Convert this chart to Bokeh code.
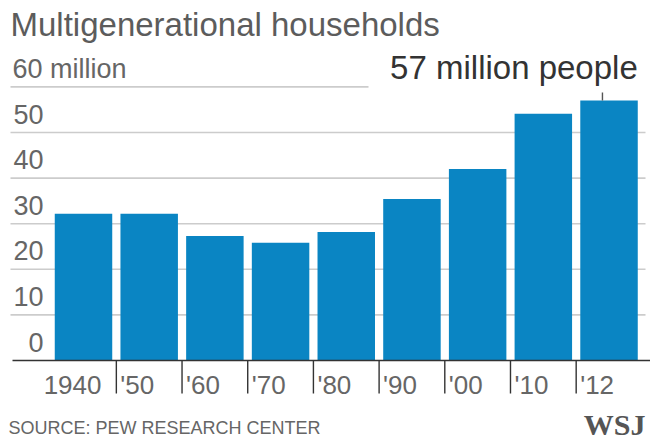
from bokeh.plotting import figure
from bokeh.models import Range1d, Label
from bokeh.core.properties import value
from bokeh.embed import file_html
from bokeh.resources import INLINE

# ---- data ----
years = ["1940", "'50", "'60", "'70", "'80", "'90", "'00", "'10", "'12"]
people = [32.2, 32.2, 27.3, 25.8, 28.2, 35.4, 42.0, 54.1, 57.0]
grid_values = [10, 20, 30, 40, 50]
y_label_values = [0, 10, 20, 30, 40, 50]
y_labels = ["0", "10", "20", "30", "40", "50"]
top_value = 60
top_label = "60 million"
title_text = "Multigenerational households"
callout_text = "57 million people"
source_text = "SOURCE: PEW RESEARCH CENTER"
brand_text = "WSJ"

# ---- layout ----
W, H = 650, 444
PX, PY = 65.69, 4.56          # pixels per category / per million
XS = -83 / PX
XE = XS + W / PX
YE = 360 / PY
YS = YE - H / PY

FONT = value("Liberation Sans")
GRAY = "#666666"
BLUE = "#0a85c3"

p = figure(width=W, height=H, x_range=Range1d(XS, XE), y_range=Range1d(YS, YE),
           output_backend="svg", toolbar_location=None, min_border=0,
           x_axis_location=None, y_axis_location=None, outline_line_color=None)
p.xgrid.visible = False
p.ygrid.visible = False

n = len(years)
idx = list(range(n))

# gridlines
p.segment(x0=[XS + 10 / PX] * len(grid_values), y0=grid_values,
          x1=[XS + 645 / PX] * len(grid_values), y1=grid_values,
          line_color="#cccccc", line_width=1.6)
p.segment(x0=[XS + 10 / PX], y0=[top_value], x1=[XS + 368 / PX], y1=[top_value],
          line_color="#cccccc", line_width=1.6)

# y labels
p.text(x=[XS] * len(y_labels), y=y_label_values, text=y_labels,
       x_offset=43, y_offset=-18.5, text_align="right", text_baseline="middle",
       text_font=FONT, text_font_size="27px", text_color=GRAY)
p.text(x=[XS], y=[top_value], text=[top_label], x_offset=12, y_offset=-17.5,
       text_align="left", text_baseline="middle",
       text_font=FONT, text_font_size="27px", text_color=GRAY)

# bars
p.vbar(x=idx, top=people, bottom=0, width=0.875, fill_color=BLUE, line_color=None)

# baseline and ticks
p.segment(x0=[XS + 12 / PX], y0=[0], x1=[XE], y1=[0], line_color="#333333", line_width=1.6)
tick_x = [i - 0.5 for i in idx[1:]]
p.segment(x0=tick_x, y0=[0] * len(tick_x), x1=tick_x, y1=[-33 / PY] * len(tick_x),
          line_color="#333333", line_width=1.4)

# x labels
p.text(x=tick_x, y=[0] * len(tick_x), text=years[1:], x_offset=4, y_offset=24,
       text_align="left", text_baseline="middle",
       text_font=FONT, text_font_size="26px", text_color=GRAY)
p.text(x=[-0.5], y=[0], text=[years[0]], x_offset=-7, y_offset=24,
       text_align="left", text_baseline="middle",
       text_font=FONT, text_font_size="26px", text_color=GRAY)

# callout
last = n - 1
p.segment(x0=[last - 0.1], y0=[people[last]], x1=[last - 0.1], y1=[people[last] + 8 / PY],
          line_color="#555555", line_width=1.4)
p.text(x=[last + 0.4375], y=[people[last]], text=[callout_text], y_offset=-33.5,
       text_align="right", text_baseline="middle",
       text_font=FONT, text_font_size="33px", text_color="#333333")

# title, source, brand
p.add_layout(Label(x=10, y=H - 23.5, x_units="screen", y_units="screen", text=title_text,
                   text_font="Liberation Sans", text_font_size="33px",
                   text_color="#5c5c5c", text_baseline="middle"))
p.add_layout(Label(x=8, y=H - 427.5, x_units="screen", y_units="screen", text=source_text,
                   text_font="Liberation Sans", text_font_size="18px",
                   text_color=GRAY, text_baseline="middle"))
p.add_layout(Label(x=645, y=H - 424, x_units="screen", y_units="screen", text=brand_text,
                   text_font="Liberation Serif", text_font_size="30px",
                   text_font_style="bold", text_align="right",
                   text_color="#555555", text_baseline="middle"))

open("out.html", "w").write(file_html(p, INLINE))
